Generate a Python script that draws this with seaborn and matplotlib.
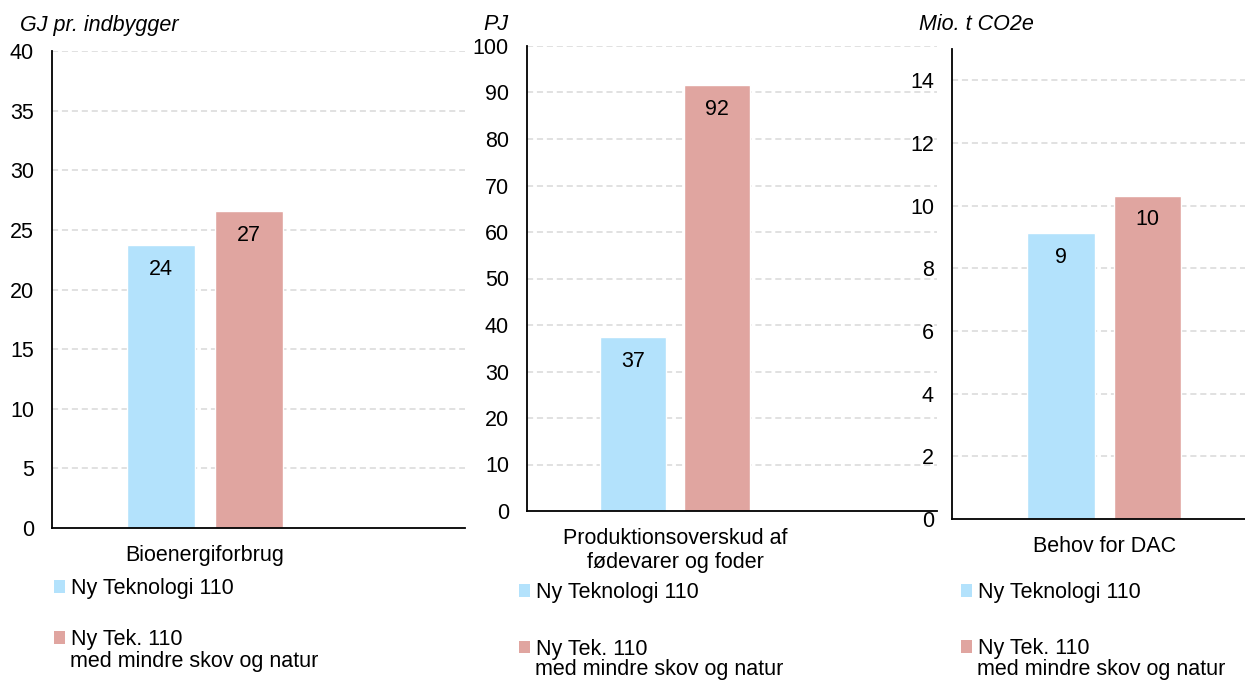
import pandas as pd
import matplotlib.pyplot as plt
import seaborn as sns
from matplotlib.patches import Patch

# data
categories = ["Bioenergiforbrug", "Produktionsoverskud af\nfødevarer og foder", "Behov for DAC"]
series = ["Ny Teknologi 110", "Ny Tek. 110\nmed mindre skov og natur"]
ny_teknologi = [23.7, 37.4, 9.13]
mindre_skov = [26.6, 91.6, 10.32]
units = ["GJ pr. indbygger", "PJ", "Mio. t CO2e"]
y_max = [40, 100, 15]
y_step = [5, 10, 2]
y_top_tick = [40, 100, 14]

colors = ["#b3e2fc", "#e0a5a0"]

sns.set_theme(style="white")
plt.rcParams["font.family"] = ["Liberation Sans", "DejaVu Sans"]
plt.rcParams.update({"font.size": 15.5, "text.color": "black",
                     "axes.labelcolor": "black", "xtick.color": "black",
                     "ytick.color": "black"})
FS = 15.5

W, H = 1245, 682
fig = plt.figure(figsize=(W / 100, H / 100), dpi=100)


def px(x0, y0, x1, y1):
    # pixel box -> figure fraction [left, bottom, width, height]
    return [x0 / W, 1 - y1 / H, (x1 - x0) / W, (y1 - y0) / H]


# layout per panel (pixels)
axes_boxes = [px(52, 51, 465, 528), px(527, 46, 937, 511), px(952, 49, 1260, 519)]
xlims = [(-0.70, 1.19), (-0.705, 1.248), (-0.703, 0.72)]
unit_pos = [(20, 26, "left"), (508, 25, "right"), (919, 25, "left")]
legend_pos = [(54, 578), (519, 582), (961, 582)]
legend_spacing = [1.41, 1.66, 1.62]
second_line = [(70, 662), (535, 670), (977, 669)]

for i in range(3):
    ax = fig.add_axes(axes_boxes[i])
    df = pd.DataFrame({
        "kategori": [categories[i]] * 2,
        "serie": series,
        "værdi": [ny_teknologi[i], mindre_skov[i]],
    })
    sns.barplot(data=df, x="kategori", y="værdi", hue="serie", hue_order=series,
                palette=colors, width=0.8, gap=0.22, legend=False, ax=ax,
                saturation=1)
    for cont in ax.containers:
        ax.bar_label(cont, fmt="%.0f", padding=-25, fontsize=FS, color="black")

    ax.set_ylim(0, y_max[i])
    ax.set_yticks(range(0, y_top_tick[i] + 1, y_step[i]))
    ax.set_xlim(*xlims[i])
    ax.set_xlabel("")
    ax.set_ylabel("")

    # dashed grid lines, not at zero
    for t in range(y_step[i], y_top_tick[i] + 1, y_step[i]):
        ax.axhline(t, color="#d9d9d9", lw=1.1, dashes=(4, 2.5), zorder=0)

    for s in ["top", "right"]:
        ax.spines[s].set_visible(False)
    for s in ["left", "bottom"]:
        ax.spines[s].set_color("black")
        ax.spines[s].set_linewidth(1.3)

    ax.tick_params(axis="y", length=0, pad=13, labelsize=FS)
    ax.tick_params(axis="x", which="major", length=0, pad=12, labelsize=FS)
    ax.set_xticks(list(xlims[i]), minor=True)
    ax.tick_params(axis="x", which="minor", length=5, width=1.3, color="black", direction="out")
    for lab in ax.get_xticklabels():
        lab.set_linespacing(1.2)

    ux, uy, ha = unit_pos[i]
    fig.text(ux / W, 1 - uy / H, units[i], ha=ha, va="center", fontsize=FS, style="italic")

    # legend: first lines via legend, the wrapped second line as plain text
    handles = [Patch(facecolor=c, edgecolor="none") for c in colors]
    first_lines = [s.split("\n")[0] for s in series]
    lx, ly = legend_pos[i]
    ax.legend(handles, first_lines, loc="upper left", bbox_to_anchor=(lx / W, 1 - ly / H),
              bbox_transform=fig.transFigure, frameon=False, fontsize=FS,
              handlelength=0.52, handleheight=0.52, handletextpad=0.25,
              labelspacing=legend_spacing[i], borderpad=0, borderaxespad=0)
    sx, sy = second_line[i]
    fig.text(sx / W, 1 - sy / H, series[1].split("\n")[1], ha="left", va="center", fontsize=FS)

fig.savefig("out.png", dpi=100)
